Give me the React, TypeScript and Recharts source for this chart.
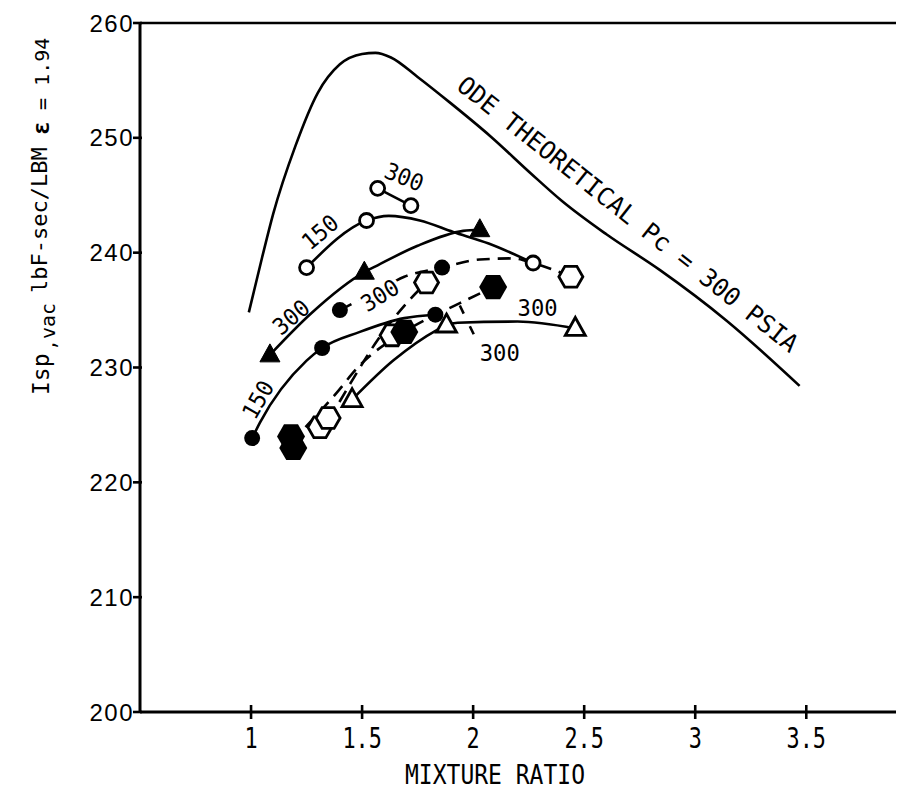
import React from 'react';
import { ComposedChart, Line, Scatter, XAxis, YAxis, ReferenceLine } from 'recharts';

const MONO = '"DejaVu Sans Mono", monospace';
const SANS = '"Liberation Sans", Arial, sans-serif';
const INK = '#000';

const xTicks = [1, 1.5, 2, 2.5, 3, 3.5];
const yTicks = [200, 210, 220, 230, 240, 250, 260];

// ODE theoretical specific impulse, Pc = 300 psia
const theoretical = [
  { x: 0.99, y: 234.8 }, { x: 1.05, y: 239.6 }, { x: 1.1, y: 243.4 }, { x: 1.2, y: 249.3 },
  { x: 1.3, y: 253.9 }, { x: 1.4, y: 256.4 }, { x: 1.5, y: 257.3 }, { x: 1.56, y: 257.4 },
  { x: 1.63, y: 257.0 }, { x: 1.75, y: 255.3 }, { x: 1.9, y: 253.0 }, { x: 2.08, y: 250.1 },
  { x: 2.26, y: 246.9 }, { x: 2.4, y: 244.5 }, { x: 2.6, y: 241.6 }, { x: 2.84, y: 238.5 },
  { x: 3.14, y: 234.1 }, { x: 3.47, y: 228.4 },
];

// fitted test curves (solid)
const openCircle150Curve = [
  { x: 1.25, y: 238.7 }, { x: 1.52, y: 242.8 }, { x: 1.62, y: 243.2 }, { x: 1.76, y: 242.8 },
  { x: 1.91, y: 241.8 }, { x: 2.07, y: 240.8 }, { x: 2.27, y: 239.1 },
];
const openCircle300Curve = [{ x: 1.57, y: 245.6 }, { x: 1.72, y: 244.1 }];
const solidTriangle300Curve = [
  { x: 1.085, y: 231.1 }, { x: 1.27, y: 234.7 }, { x: 1.51, y: 238.3 }, { x: 1.57, y: 238.9 },
  { x: 1.75, y: 240.6 }, { x: 1.955, y: 241.9 }, { x: 2.03, y: 242.0 },
];
const solidCircle150Curve = [
  { x: 1.005, y: 223.85 }, { x: 1.04, y: 225.2 }, { x: 1.25, y: 230.6 }, { x: 1.32, y: 231.7 },
  { x: 1.49, y: 233.1 }, { x: 1.69, y: 234.3 }, { x: 1.83, y: 234.6 },
];
const openTriangle300Curve = [
  { x: 1.455, y: 227.2 }, { x: 1.64, y: 230.6 }, { x: 1.84, y: 233.3 }, { x: 1.88, y: 233.7 },
  { x: 1.93, y: 233.9 }, { x: 2.2, y: 234.0 }, { x: 2.46, y: 233.4 },
];

// fitted test curves (dashed)
const solidCircle300Curve = [
  { x: 1.4, y: 235.0 }, { x: 1.58, y: 236.8 }, { x: 1.69, y: 237.9 }, { x: 1.86, y: 238.7 },
  { x: 2.03, y: 239.4 }, { x: 2.18, y: 239.5 }, { x: 2.27, y: 239.1 }, { x: 2.44, y: 237.9 },
];
const openHexCurve = [
  { x: 1.35, y: 225.4 }, { x: 1.45, y: 228.7 }, { x: 1.57, y: 232.4 }, { x: 1.7, y: 235.6 },
  { x: 1.79, y: 237.4 },
];
const solidHexCurve = [
  { x: 1.18, y: 223.5 }, { x: 1.39, y: 227.9 }, { x: 1.48, y: 230.0 }, { x: 1.69, y: 233.1 },
  { x: 1.94, y: 235.6 }, { x: 2.09, y: 237.0 },
];

// measured points
const openCircles = [
  { x: 1.25, y: 238.7 }, { x: 1.52, y: 242.8 }, { x: 1.57, y: 245.6 }, { x: 1.72, y: 244.1 },
  { x: 2.27, y: 239.1 },
];
const solidTriangles = [{ x: 1.085, y: 231.1 }, { x: 1.51, y: 238.3 }, { x: 2.03, y: 242.0 }];
const solidCircles = [
  { x: 1.005, y: 223.85 }, { x: 1.32, y: 231.7 }, { x: 1.4, y: 235.0 }, { x: 1.83, y: 234.6 },
  { x: 1.86, y: 238.7 },
];
const openTriangles = [{ x: 1.455, y: 227.2 }, { x: 1.88, y: 233.7 }, { x: 2.46, y: 233.4 }];
const openHexagons = [
  { x: 1.31, y: 224.8 }, { x: 1.347, y: 225.6 }, { x: 1.635, y: 232.8 }, { x: 1.79, y: 237.4 },
  { x: 2.44, y: 237.9 },
];
const solidHexagons = [
  { x: 1.18, y: 224.0 }, { x: 1.19, y: 223.0 }, { x: 1.69, y: 233.1 }, { x: 2.09, y: 237.0 },
];

// chamber-pressure tags on the curves
const curveLabels = [
  { x: 1.31, y: 241.8, text: '150', angle: -40, halo: false },
  { x: 1.69, y: 246.6, text: '300', angle: 22, halo: false },
  { x: 1.18, y: 234.4, text: '300', angle: -40, halo: false },
  { x: 1.58, y: 236.3, text: '300', angle: -32, halo: true },
  { x: 2.29, y: 235.2, text: '300', angle: 0, halo: false },
  { x: 2.12, y: 231.3, text: '300', angle: 0, halo: false },
  { x: 1.03, y: 227.2, text: '150', angle: -60, halo: false },
];
const theoryLabel = [{ x: 1.919, y: 254.3, text: 'ODE THEORETICAL Pc = 300 PSIA', angle: 38.4 }];

const hex = (cx: number, cy: number, r: number) =>
  Array.from({ length: 6 }, (_, i) => {
    const a = (Math.PI / 3) * i;
    return `${cx + r * Math.cos(a)},${cy + r * Math.sin(a)}`;
  }).join(' ');
const tri = (cx: number, cy: number) =>
  `${cx},${cy - 11} ${cx + 10},${cy + 7} ${cx - 10},${cy + 7}`;

const OpenCircle = (p: any) => (
  <circle cx={p.cx} cy={p.cy} r={7} fill="#fff" stroke={INK} strokeWidth={2.8} />
);
const SolidCircle = (p: any) => <circle cx={p.cx} cy={p.cy} r={8} fill={INK} />;
const SolidTriangle = (p: any) => <polygon points={tri(p.cx, p.cy)} fill={INK} stroke={INK} strokeWidth={1} />;
const OpenTriangle = (p: any) => (
  <polygon points={tri(p.cx, p.cy)} fill="#fff" stroke={INK} strokeWidth={2.8} strokeLinejoin="miter" />
);
const OpenHex = (p: any) => (
  <polygon points={hex(p.cx, p.cy, 12)} fill="#fff" stroke={INK} strokeWidth={2.8} />
);
const SolidHex = (p: any) => <polygon points={hex(p.cx, p.cy, 14)} fill={INK} />;

const CurveTag = (p: any) => {
  const d = p.payload;
  return (
    <text
      transform={`translate(${p.cx},${p.cy}) rotate(${d.angle})`}
      textAnchor="middle"
      dy="0.36em"
      fontFamily={MONO}
      fontSize={23}
      textLength={40}
      lengthAdjust="spacingAndGlyphs"
      fill={INK}
      stroke={d.halo ? '#fff' : 'none'}
      strokeWidth={d.halo ? 7 : 0}
      paintOrder="stroke"
    >
      {d.text}
    </text>
  );
};

const TheoryTag = (p: any) => {
  const d = p.payload;
  return (
    <text
      transform={`translate(${p.cx},${p.cy}) rotate(${d.angle})`}
      textAnchor="start"
      fontFamily={MONO}
      fontSize={25}
      textLength={427}
      lengthAdjust="spacingAndGlyphs"
      fill={INK}
    >
      {d.text}
    </text>
  );
};

const XTick = (p: any) => {
  const { x, y, payload } = p;
  return (
    <g>
      <line x1={x} x2={x} y1={y - 7} y2={y + 7} stroke={INK} strokeWidth={2.6} />
      <text
        transform={`translate(${x},${y + 36}) scale(0.78,1)`}
        textAnchor="middle"
        fontFamily={MONO}
        fontSize={28}
        fill={INK}
      >
        {payload.value}
      </text>
    </g>
  );
};

const YTick = (p: any) => {
  const { x, y, payload } = p;
  return (
    <g>
      <line x1={x - 7} x2={x + 2} y1={y} y2={y} stroke={INK} strokeWidth={2.6} />
      <text
        x={x - 6}
        y={y}
        dy="0.36em"
        textAnchor="end"
        fontFamily={SANS}
        fontSize={24}
        letterSpacing={1.5}
        fill={INK}
      >
        {payload.value}
      </text>
    </g>
  );
};

const YTitle = () => (
  <text transform="translate(41,387) rotate(-90)" fontFamily={MONO} fontSize={23} fill={INK}>
    <tspan x={0} dy={0}>Isp</tspan>
    <tspan x={44} dy={6} fontSize={20}>,vac</tspan>
    <tspan x={102} dy={-8} fontSize={22}>lbF-sec/LBM</tspan>
    <tspan x={260} dy={2} fontWeight="bold" fontSize={23}>ε</tspan>
    <tspan x={273} dy={0} fontSize={20}> = 1.94</tspan>
  </text>
);

const XTitle = () => (
  <text
    x={487}
    y={776}
    textAnchor="middle"
    fontFamily={MONO}
    fontSize={27}
    textLength={180}
    lengthAdjust="spacingAndGlyphs"
    fill={INK}
  >
    MIXTURE RATIO
  </text>
);

const solid = { stroke: INK, strokeWidth: 2.6, dot: false, isAnimationActive: false, type: 'monotone' as const };
const dashed = { ...solid, strokeDasharray: '13 8' };

export default function App() {
  return (
    <div style={{ width: 896, height: 787, marginBottom: -8, overflow: 'hidden' }}>
      <ComposedChart width={896} height={787} margin={{ top: 15, right: 0, left: 52, bottom: 23 }}>
        <XAxis
          type="number"
          dataKey="x"
          domain={[0.5, 3.94]}
          ticks={xTicks}
          interval={0}
          allowDataOverflow
          height={60}
          axisLine={{ stroke: INK, strokeWidth: 3 }}
          tickLine={false}
          tickSize={0}
          tickMargin={0}
          tick={XTick}
          label={{ content: XTitle }}
        />
        <YAxis
          type="number"
          domain={[200, 260]}
          ticks={yTicks}
          interval={0}
          allowDataOverflow
          width={80}
          axisLine={{ stroke: INK, strokeWidth: 3 }}
          tickLine={false}
          tickSize={0}
          tickMargin={0}
          tick={YTick}
          label={{ content: YTitle }}
        />
        <ReferenceLine y={260} stroke={INK} strokeWidth={2.6} />

        <Line data={theoretical} dataKey="y" {...solid} />
        <Line data={openCircle150Curve} dataKey="y" {...solid} />
        <Line data={openCircle300Curve} dataKey="y" {...solid} />
        <Line data={solidTriangle300Curve} dataKey="y" {...solid} />
        <Line data={solidCircle150Curve} dataKey="y" {...solid} />
        <Line data={openTriangle300Curve} dataKey="y" {...solid} />
        <Line data={solidCircle300Curve} dataKey="y" {...dashed} />
        <Line data={openHexCurve} dataKey="y" {...dashed} />
        <Line data={solidHexCurve} dataKey="y" {...dashed} />
        <ReferenceLine
          segment={[{ x: 1.94, y: 235.4 }, { x: 2.03, y: 231.8 }]}
          stroke={INK}
          strokeWidth={2.6}
          strokeDasharray="9 14"
        />

        <Scatter data={curveLabels} dataKey="y" shape={CurveTag} isAnimationActive={false} />
        <Scatter data={theoryLabel} dataKey="y" shape={TheoryTag} isAnimationActive={false} />

        <Scatter data={openHexagons} dataKey="y" shape={OpenHex} isAnimationActive={false} />
        <Scatter data={solidHexagons} dataKey="y" shape={SolidHex} isAnimationActive={false} />
        <Scatter data={openTriangles} dataKey="y" shape={OpenTriangle} isAnimationActive={false} />
        <Scatter data={solidTriangles} dataKey="y" shape={SolidTriangle} isAnimationActive={false} />
        <Scatter data={solidCircles} dataKey="y" shape={SolidCircle} isAnimationActive={false} />
        <Scatter data={openCircles} dataKey="y" shape={OpenCircle} isAnimationActive={false} />
      </ComposedChart>
    </div>
  );
}
